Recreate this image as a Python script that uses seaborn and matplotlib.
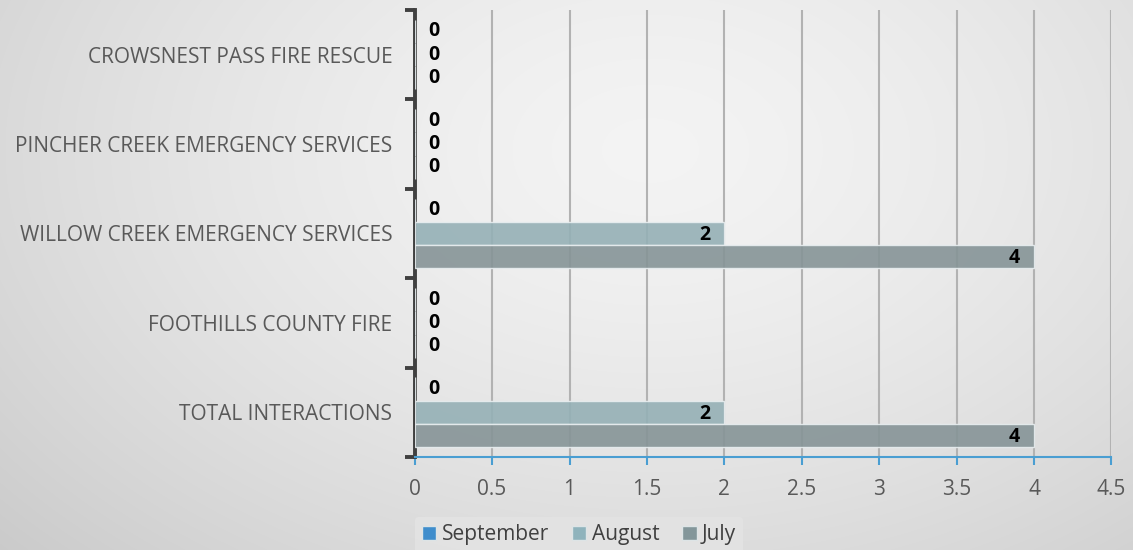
import matplotlib
matplotlib.use("Agg")
import matplotlib.pyplot as plt
from matplotlib.patches import Patch
import seaborn as sns
import pandas as pd
import numpy as np

categories = [
    "CROWSNEST PASS FIRE RESCUE",
    "PINCHER CREEK EMERGENCY SERVICES",
    "WILLOW CREEK EMERGENCY SERVICES",
    "FOOTHILLS COUNTY FIRE",
    "TOTAL INTERACTIONS",
]
months = ["September", "August", "July"]
september = [0, 0, 0, 0, 0]
august = [0, 0, 2, 0, 2]
july = [0, 0, 4, 0, 4]
x_ticks = [0, 0.5, 1, 1.5, 2, 2.5, 3, 3.5, 4, 4.5]
x_tick_labels = ["0", "0.5", "1", "1.5", "2", "2.5", "3", "3.5", "4", "4.5"]

colors = {"September": "#3f8dcc", "August": "#8fb3bc", "July": "#83969a"}

series = {"September": september, "August": august, "July": july}
df = pd.DataFrame(
    [(c, m, series[m][i]) for m in months for i, c in enumerate(categories)],
    columns=["category", "month", "value"],
)

sns.set_style("white")
plt.rcParams["font.family"] = ["Open Sans", "DejaVu Sans"]

fig = plt.figure(figsize=(11.33, 5.5), dpi=100)

# radial gray background
bg = fig.add_axes([0, 0, 1, 1], zorder=-10)
yy, xx = np.mgrid[0:550, 0:1133]
r = np.sqrt(((xx - 650) / 900.0) ** 2 + ((yy - 150) / 600.0) ** 2)
r = np.clip(r, 0, 1.2)
shade = 0.955 - 0.165 * r ** 1.5
bg.imshow(np.dstack([shade] * 3), aspect="auto", extent=[0, 1, 0, 1])
bg.axis("off")

ax = fig.add_axes([0.366, 0.169, 0.615, 0.813])
ax.set_facecolor("none")

sns.barplot(
    data=df, x="value", y="category", hue="month", orient="h",
    order=categories, hue_order=months, palette=colors,
    width=0.78, ax=ax, legend=False, alpha=0.9,
    edgecolor="#e8eef0", linewidth=1.0, zorder=3,
)

ax.set_xlim(0, 4.5)
ax.set_ylim(len(categories) - 0.5, -0.5)
ax.set_xticks(x_ticks)
ax.set_xticklabels(x_tick_labels)
ax.set_xlabel("")
ax.set_ylabel("")

ax.grid(axis="x", color="#b2b2b2", linewidth=1.5, zorder=1)
ax.grid(axis="y", visible=False)
ax.set_axisbelow(True)

for side in ["top", "right"]:
    ax.spines[side].set_visible(False)
ax.spines["left"].set_color("#404040")
ax.spines["left"].set_linewidth(2.8)
ax.spines["bottom"].set_color("#4a9ed2")
ax.spines["bottom"].set_linewidth(1.5)

ax.tick_params(axis="x", bottom=True, colors="#4a9ed2", length=6, width=1.5,
               direction="out", labelcolor="#595959", labelsize=15, pad=10)
ax.tick_params(axis="y", which="major", left=False, length=0, labelcolor="#595959",
               labelsize=15, pad=16)
ax.set_yticks(np.arange(-0.5, len(categories), 1.0), minor=True)
ax.tick_params(axis="y", which="minor", left=True, length=7, width=2.8,
               color="#404040", direction="out")

for container, m in zip(ax.containers, months):
    for patch, v in zip(container.patches, series[m]):
        yc = patch.get_y() + patch.get_height() / 2
        if v == 0:
            ax.annotate("0", (0, yc), xytext=(10, 0), textcoords="offset points",
                        ha="left", va="center", fontsize=14, fontweight="bold",
                        color="black", zorder=5)
        else:
            ax.annotate(f"{v:g}", (v, yc), xytext=(-10, -1), textcoords="offset points",
                        ha="right", va="center", fontsize=14, fontweight="bold",
                        color="black", zorder=5)

handles = [Patch(facecolor=colors[m], edgecolor="#dde4e6", label=m) for m in months]
leg = fig.legend(handles=handles, loc="lower center", bbox_to_anchor=(0.511, -0.024),
                 ncol=3, frameon=True, fontsize=15, handlelength=0.7, handleheight=0.7,
                 handletextpad=0.25, columnspacing=1.1, borderpad=0.35)
leg.get_frame().set_facecolor("#e4e4e4")
leg.get_frame().set_edgecolor("none")
leg.get_frame().set_alpha(0.8)
for t in leg.get_texts():
    t.set_color("#404040")

fig.savefig("out.png", dpi=100)
